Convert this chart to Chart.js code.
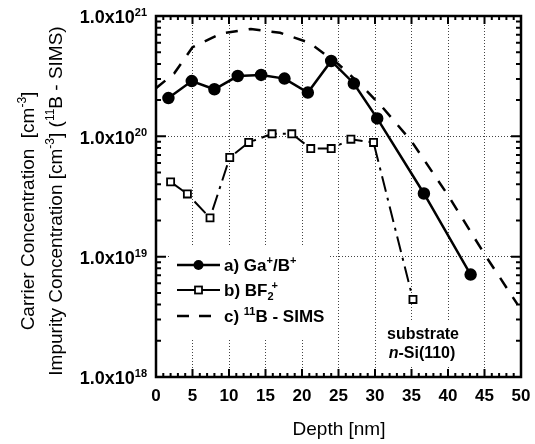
<!DOCTYPE html>
<html>
<head>
<meta charset="utf-8">
<script src="https://cdn.jsdelivr.net/npm/chart.js@4.4.0/dist/chart.umd.min.js"></script>
<style>
  html, body { margin: 0; padding: 0; background: #fff; }
</style>
</head>
<body>
<canvas id="chart" width="535" height="444"></canvas>
<script>
// Depth [nm] vs concentration [cm^-3]
const gaDepth = [1.7, 4.9, 8.0, 11.2, 14.4, 17.6, 20.8, 24.0, 27.1, 30.3, 36.7, 43.1];
const gaConc  = [2.08e20, 2.88e20, 2.46e20, 3.17e20, 3.24e20, 3.02e20, 2.31e20, 4.23e20, 2.75e20, 1.41e20, 3.35e19, 7.1e18];

const bfDepth = [2.0, 4.3, 7.4, 10.1, 12.7, 15.9, 18.6, 21.2, 24.0, 26.7, 29.8, 35.2];
const bfConc  = [4.18e19, 3.32e19, 2.10e19, 6.67e19, 8.89e19, 1.05e20, 1.05e20, 7.92e19, 7.92e19, 9.46e19, 8.89e19, 4.41e18];

const simsDepth = [0, 2.5, 5, 9, 13, 17, 21, 25, 28, 31, 35, 40, 45, 49.5];
const simsConc  = [2.51e20, 3.34e20, 5.5e20, 7.18e20, 7.8e20, 7.25e20, 6.0e20, 3.97e20, 2.7e20, 1.75e20,
                   9.1e19, 3.24e19, 1.05e19, 4.03e18];

const xTickLabels = ['0', '5', '10', '15', '20', '25', '30', '35', '40', '45', '50'];
const yDecades = [18, 19, 20, 21];

const FONT = "'Liberation Sans', Arial, sans-serif";
const BF_DASH = [16, 6, 3, 6];
const SIMS_DASH = [12, 11];

function pts(xs, ys) {
    return xs.map(function (x, i) { return { x: x, y: ys[i] }; });
}

function isDecade(v) {
    var l = Math.log10(v);
    return Math.abs(l - Math.round(l)) < 1e-6;
}

// ── texto con super/subíndices ────────────────────────────────────────────
function drawRich(ctx, parts, x, y, size, weight, align) {
    var sizes = parts.map(function (p) { return (p.sup || p.sub) ? Math.round(size * 0.62) : size; });
    var total = 0;
    var widths = parts.map(function (p, i) {
        ctx.font = (p.it ? 'italic ' : '') + weight + ' ' + sizes[i] + 'px ' + FONT;
        var w = ctx.measureText(p.t).width;
        total += w + (p.dx || 0);
        return w;
    });
    var cx = align === 'center' ? x - total / 2 : (align === 'right' ? x - total : x);
    var base = y + size * 0.36;
    ctx.textAlign = 'left';
    ctx.textBaseline = 'alphabetic';
    parts.forEach(function (p, i) {
        ctx.font = (p.it ? 'italic ' : '') + weight + ' ' + sizes[i] + 'px ' + FONT;
        cx += p.dx || 0;
        var off = p.sup ? -size * 0.42 : (p.sub ? size * 0.22 : 0);
        ctx.fillText(p.t, cx, base + off);
        cx += widths[i];
    });
}

// ── marco, marcas hacia dentro, etiquetas, leyenda ────────────────────────
const decorations = {
    id: 'decorations',
    beforeDatasetsDraw: function (chart) {
        var ctx = chart.ctx, a = chart.chartArea;
        ctx.save();
        ctx.fillStyle = '#fff';
        ctx.fillRect(a.left + 14, 247, 160, 92);   // fondo leyenda
        ctx.fillRect(a.left + 226, 320, 82, 46);   // fondo nota sustrato
        ctx.restore();
    },
    afterDraw: function (chart) {
        var ctx = chart.ctx, a = chart.chartArea;
        var xs = chart.scales.x, ys = chart.scales.y;
        ctx.save();
        ctx.setLineDash([]);
        ctx.strokeStyle = '#000';
        ctx.fillStyle = '#000';

        // marcas
        ctx.lineWidth = 2;
        ctx.beginPath();
        xs.ticks.forEach(function (t) {
            var px = xs.getPixelForValue(t.value);
            var len = t.value % 5 === 0 ? 8 : 4;
            ctx.moveTo(px, a.bottom); ctx.lineTo(px, a.bottom - len);
            ctx.moveTo(px, a.top);    ctx.lineTo(px, a.top + len);
        });
        ys.ticks.forEach(function (t) {
            var py = ys.getPixelForValue(t.value);
            var len = isDecade(t.value) ? 10 : 5;
            ctx.moveTo(a.left, py);  ctx.lineTo(a.left + len, py);
            ctx.moveTo(a.right, py); ctx.lineTo(a.right - len, py);
        });
        ctx.stroke();

        // marco
        ctx.lineWidth = 2.5;
        ctx.strokeRect(a.left, a.top, a.right - a.left, a.bottom - a.top);

        // etiquetas eje x
        ctx.font = 'bold 17px ' + FONT;
        ctx.textAlign = 'center';
        ctx.textBaseline = 'middle';
        xTickLabels.forEach(function (l) {
            ctx.fillText(l, xs.getPixelForValue(Number(l)), a.bottom + 19);
        });

        // etiquetas eje y
        yDecades.forEach(function (e) {
            var py = ys.getPixelForValue(Math.pow(10, e));
            drawRich(ctx, [{ t: '1.0x10' }, { t: String(e), sup: true }], a.left - 9, py + 1, 18, 'bold', 'right');
        });

        // títulos
        ctx.font = '19px ' + FONT;
        ctx.textAlign = 'center';
        ctx.textBaseline = 'middle';
        ctx.fillText('Depth [nm]', 339, 430);

        ctx.save();
        ctx.translate(27, 211);
        ctx.rotate(-Math.PI / 2);
        drawRich(ctx, [{ t: 'Carrier Concentration  [cm' }, { t: '-3', sup: true }, { t: ']' }], 0, 0, 19, 'normal', 'center');
        ctx.restore();
        ctx.save();
        ctx.translate(55, 201);
        ctx.rotate(-Math.PI / 2);
        drawRich(ctx, [{ t: 'Impurity Concentration [cm' }, { t: '-3', sup: true }, { t: '] (' },
                       { t: '11', sup: true }, { t: 'B - SIMS)' }], 0, 0, 19, 'normal', 'center');
        ctx.restore();

        // leyenda
        var lx = a.left + 21, rows = [265, 290, 316];
        ctx.lineWidth = 2.5;
        ctx.beginPath();
        ctx.moveTo(lx, rows[0]); ctx.lineTo(lx + 43, rows[0]);
        ctx.stroke();
        ctx.beginPath();
        ctx.arc(lx + 21.5, rows[0], 5, 0, Math.PI * 2);
        ctx.fill();

        ctx.lineWidth = 2;
        ctx.beginPath();
        ctx.moveTo(lx, rows[1]); ctx.lineTo(lx + 43, rows[1]);
        ctx.stroke();
        ctx.fillStyle = '#fff';
        ctx.fillRect(lx + 18, rows[1] - 3.5, 7, 7);
        ctx.lineWidth = 1.8;
        ctx.strokeRect(lx + 18, rows[1] - 3.5, 7, 7);
        ctx.fillStyle = '#000';

        ctx.lineWidth = 2.5;
        ctx.setLineDash([12, 10]);
        ctx.beginPath();
        ctx.moveTo(lx, rows[2]); ctx.lineTo(lx + 34, rows[2]);
        ctx.stroke();
        ctx.setLineDash([]);

        var tx = a.left + 68;
        drawRich(ctx, [{ t: 'a) Ga' }, { t: '+', sup: true }, { t: '/B' }, { t: '+', sup: true }], tx, rows[0], 17, 'bold', 'left');
        drawRich(ctx, [{ t: 'b) BF' }, { t: '2', sub: true }, { t: '+', sup: true, dx: -2 }], tx, rows[1], 17, 'bold', 'left');
        drawRich(ctx, [{ t: 'c) ' }, { t: '11', sup: true }, { t: 'B - SIMS' }], tx, rows[2], 17, 'bold', 'left');

        // nota sustrato
        drawRich(ctx, [{ t: 'substrate' }], 423, 333, 16, 'bold', 'center');
        drawRich(ctx, [{ t: 'n', it: true }, { t: '-Si(110)' }], 422, 352, 16, 'bold', 'center');

        ctx.restore();
    }
};

new Chart(document.getElementById('chart'), {
    type: 'line',
    data: {
        datasets: [
            {
                label: 'a) Ga+/B+',
                data: pts(gaDepth, gaConc),
                borderColor: '#000',
                borderWidth: 2.5,
                pointStyle: 'circle',
                pointRadius: 5,
                pointBackgroundColor: '#000',
                pointBorderColor: '#000',
                tension: 0,
                fill: false
            },
            {
                label: 'b) BF2+',
                data: pts(bfDepth, bfConc),
                borderColor: '#000',
                borderWidth: 2,
                segment: { borderDash: function () { return BF_DASH; } },
                pointStyle: 'rect',
                pointRadius: 5,
                pointBackgroundColor: '#fff',
                pointBorderColor: '#000',
                pointBorderWidth: 1.8,
                tension: 0,
                fill: false
            },
            {
                label: 'c) 11B - SIMS',
                data: pts(simsDepth, simsConc),
                borderColor: '#000',
                borderWidth: 2.5,
                segment: { borderDash: function () { return SIMS_DASH; } },
                pointRadius: 0,
                tension: 0,
                fill: false
            }
        ]
    },
    options: {
        responsive: false,
        devicePixelRatio: 1,
        animation: false,
        layout: { padding: { left: 156, top: 16, right: 14, bottom: 67 } },
        plugins: {
            legend: { display: false },
            tooltip: { enabled: false }
        },
        scales: {
            x: {
                type: 'linear',
                min: 0,
                max: 50,
                ticks: { display: false, stepSize: 1, maxTicksLimit: 100, autoSkip: false },
                grid: {
                    drawTicks: false,
                    lineWidth: 1,
                    color: function (c) {
                        var v = c.tick && c.tick.value;
                        return (v % 5 === 0 && v > 0 && v < 50) ? '#444' : 'rgba(0,0,0,0)';
                    }
                },
                border: { display: false, dash: [1, 2] }
            },
            y: {
                type: 'logarithmic',
                min: 1e18,
                max: 1e21,
                afterBuildTicks: function (scale) {
                    var t = [];
                    for (var e = yDecades[0]; e < yDecades[yDecades.length - 1]; e++) {
                        for (var m = 1; m < 10; m++) t.push({ value: m * Math.pow(10, e) });
                    }
                    t.push({ value: Math.pow(10, yDecades[yDecades.length - 1]) });
                    scale.ticks = t;
                },
                ticks: { display: false },
                grid: {
                    drawTicks: false,
                    lineWidth: 1,
                    color: function (c) {
                        var v = c.tick && c.tick.value;
                        return (v && isDecade(v) && v > 1e18 && v < 1e21) ? '#444' : 'rgba(0,0,0,0)';
                    }
                },
                border: { display: false, dash: [1, 2] }
            }
        }
    },
    plugins: [decorations]
});
</script>
</body>
</html>
